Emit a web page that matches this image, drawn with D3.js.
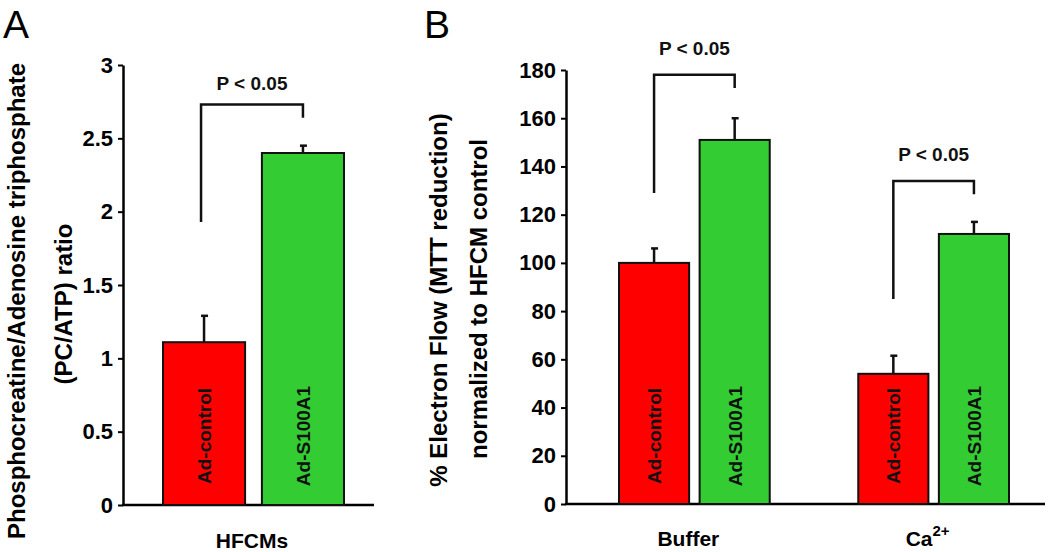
<!DOCTYPE html>
<html>
<head>
<meta charset="utf-8">
<script src="https://cdn.jsdelivr.net/npm/d3@7"></script>
<style>
  html, body { margin: 0; padding: 0; background: #fff; }
  svg { display: block; font-family: "Liberation Sans", Arial, Helvetica, sans-serif; }
  .tick text { font-weight: bold; }
</style>
</head>
<body>
<svg id="chart" width="1050" height="552"></svg>
<script>
// ---------- Data ----------
const panelACategories = ["Ad-control", "Ad-S100A1"];
const panelAValues = [1.11, 2.40];
const panelAErrors = [0.18, 0.05];
const panelATicks = [0, 0.5, 1, 1.5, 2, 2.5, 3];
const panelAGroup = "HFCMs";
const panelABracket = { left: 1.93, top: 2.73, right: 2.64, label: "P < 0.05" };

const panelBGroups = ["Buffer", "Ca2+"];
const panelBSeries = ["Ad-control", "Ad-S100A1"];
const panelBControl = [100, 54];
const panelBControlErr = [6, 7.5];
const panelBS100A1 = [151, 112];
const panelBS100A1Err = [9, 5];
const panelBTicks = [0, 20, 40, 60, 80, 100, 120, 140, 160, 180];
const panelBBrackets = [
  { left: 129, top: 178, right: 172.5, label: "P < 0.05" },
  { left: 85, top: 134, right: 128.5, label: "P < 0.05" }
];

const colors = { "Ad-control": "#ff0000", "Ad-S100A1": "#33cc33" };

const svg = d3.select("#chart");
const FONT = '"Liberation Sans", Arial, Helvetica, sans-serif';

function styleAxis(g) {
  g.select(".domain").attr("stroke", "#000").attr("stroke-width", 2.5);
  g.selectAll(".tick line").attr("stroke", "#000").attr("stroke-width", 2);
  g.selectAll(".tick text").attr("fill", "#000").style("font-size", "22px").style("font-weight", "bold").style("font-family", FONT);
}

function drawBar(g, x, w, yScale, value, err, color, label) {
  g.append("rect")
    .attr("x", x).attr("y", yScale(value))
    .attr("width", w).attr("height", yScale(0) - yScale(value))
    .attr("fill", color).attr("stroke", "#111").attr("stroke-width", 2);
  const cx = x + w / 2;
  g.append("line").attr("x1", cx).attr("x2", cx)
    .attr("y1", yScale(value)).attr("y2", yScale(value + err))
    .attr("stroke", "#111").attr("stroke-width", 2.5);
  g.append("line").attr("x1", cx - 3).attr("x2", cx + 4)
    .attr("y1", yScale(value + err)).attr("y2", yScale(value + err))
    .attr("stroke", "#111").attr("stroke-width", 2.5);
  g.append("text")
    .attr("transform", `translate(${cx + 7},${436}) rotate(-90)`)
    .attr("text-anchor", "middle")
    .style("font-size", "19px").style("font-weight", "bold").style("font-family", FONT)
    .attr("fill", "#111")
    .text(label);
}

function drawBracket(g, x1, x2, yScale, b, gap) {
  g.append("path")
    .attr("d", `M${x1},${yScale(b.left)} V${yScale(b.top)} H${x2} V${yScale(b.right)}`)
    .attr("fill", "none").attr("stroke", "#111").attr("stroke-width", 2.5);
  g.append("text")
    .attr("x", (x1 + x2) / 2).attr("y", yScale(b.top) - gap)
    .attr("text-anchor", "middle")
    .style("font-size", "19px").style("font-weight", "bold").style("font-family", FONT)
    .attr("fill", "#111")
    .text(b.label);
}

// ---------- Panel A ----------
{
  const yA = d3.scaleLinear().domain([0, 3]).range([505, 65]);
  const xA = d3.scaleBand().domain(panelACategories).range([163, 344]).paddingInner(0.17);
  const g = svg.append("g");

  g.append("text").attr("x", 3).attr("y", 38)
    .style("font-size", "39px").style("font-family", FONT).text("A");

  const ax = g.append("g").attr("transform", "translate(123,0)")
    .call(d3.axisLeft(yA).tickValues(panelATicks).tickFormat(d3.format("")).tickSize(5).tickSizeOuter(0).tickPadding(5));
  styleAxis(ax);

  g.append("line").attr("x1", 122).attr("x2", 374).attr("y1", yA(0)).attr("y2", yA(0))
    .attr("stroke", "#000").attr("stroke-width", 2.5);

  panelACategories.forEach((c, i) => {
    drawBar(g, xA(c), xA.bandwidth(), yA, panelAValues[i], panelAErrors[i], colors[c], c);
  });

  drawBracket(g, xA(panelACategories[0]) + xA.bandwidth() / 2 - 3,
    xA(panelACategories[1]) + xA.bandwidth() / 2, yA, panelABracket, 15);

  g.append("text").attr("x", 252).attr("y", 548).attr("text-anchor", "middle")
    .style("font-size", "21px").style("font-weight", "bold").style("font-family", FONT)
    .text(panelAGroup);

  const t1 = g.append("text").attr("transform", "translate(25,301) rotate(-90)")
    .attr("text-anchor", "middle")
    .style("font-size", "24px").style("font-weight", "bold").style("font-family", FONT)
    .text("Phosphocreatine/Adenosine triphosphate");
  g.append("text").attr("transform", "translate(72,304) rotate(-90)")
    .attr("text-anchor", "middle")
    .style("font-size", "24px").style("font-weight", "bold").style("font-family", FONT)
    .text("(PC/ATP) ratio");
}

// ---------- Panel B ----------
{
  const yB = d3.scaleLinear().domain([0, 180]).range([504, 70]);
  const x0 = d3.scaleBand().domain(panelBGroups).range([619, 1009]).paddingInner(0.37);
  const x1 = d3.scaleBand().domain(panelBSeries).range([0, x0.bandwidth()]).paddingInner(0.13);
  const g = svg.append("g");

  g.append("text").attr("x", 424).attr("y", 38)
    .style("font-size", "39px").style("font-family", FONT).text("B");

  const ax = g.append("g").attr("transform", "translate(566,0)")
    .call(d3.axisLeft(yB).tickValues(panelBTicks).tickFormat(d3.format("")).tickSize(5).tickSizeOuter(0).tickPadding(5));
  styleAxis(ax);

  g.append("line").attr("x1", 565).attr("x2", 1045).attr("y1", yB(0)).attr("y2", yB(0))
    .attr("stroke", "#000").attr("stroke-width", 2.5);

  const valuesBySeries = { "Ad-control": panelBControl, "Ad-S100A1": panelBS100A1 };
  const errBySeries = { "Ad-control": panelBControlErr, "Ad-S100A1": panelBS100A1Err };

  panelBGroups.forEach((grp, gi) => {
    panelBSeries.forEach(s => {
      drawBar(g, x0(grp) + x1(s), x1.bandwidth(), yB, valuesBySeries[s][gi], errBySeries[s][gi], colors[s], s);
    });
    const cl = x0(grp) + x1(panelBSeries[0]) + x1.bandwidth() / 2;
    const cr = x0(grp) + x1(panelBSeries[1]) + x1.bandwidth() / 2;
    drawBracket(g, cl, cr, yB, panelBBrackets[gi], 20);

    const lbl = g.append("text").attr("x", x0(grp) + x0.bandwidth() / 2 - 6).attr("y", 546)
      .attr("text-anchor", "middle")
      .style("font-size", "21px").style("font-weight", "bold").style("font-family", FONT);
    if (grp === "Ca2+") {
      lbl.append("tspan").text("Ca");
      lbl.append("tspan").attr("dy", -10).style("font-size", "15px").text("2+");
    } else {
      lbl.text(grp);
    }
  });

  g.append("text").attr("transform", "translate(447,300) rotate(-90)")
    .attr("text-anchor", "middle")
    .style("font-size", "24px").style("font-weight", "bold").style("font-family", FONT)
    .text("% Electron Flow (MTT reduction)");
  g.append("text").attr("transform", "translate(487,299) rotate(-90)")
    .attr("text-anchor", "middle")
    .style("font-size", "24px").style("font-weight", "bold").style("font-family", FONT)
    .text("normalized to HFCM control");
}
</script>
</body>
</html>
